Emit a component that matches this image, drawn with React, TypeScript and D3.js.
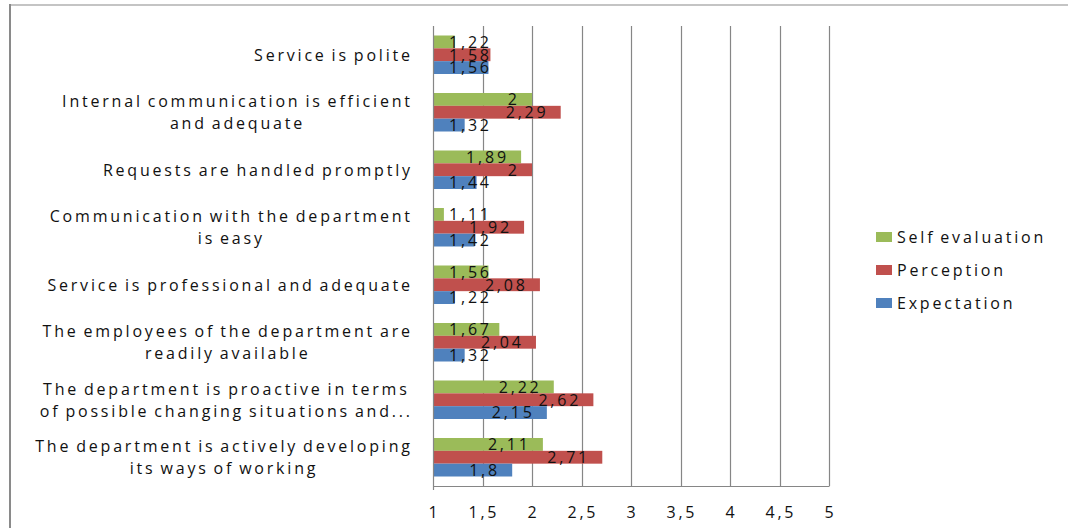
import React, { useEffect, useRef } from "react";
import * as d3 from "d3";

const categoryLines: string[][] = [
  ["Service is polite"],
  ["Internal communication is efficient", "and adequate"],
  ["Requests are handled promptly"],
  ["Communication with the department", "is easy"],
  ["Service is professional and adequate"],
  ["The employees of the department are", "readily available"],
  ["The department is proactive in terms", "of possible changing situations and..."],
  ["The department is actively developing", "its ways of working"],
];
const categories = categoryLines.map((l) => l.join(" "));

const seriesNames = ["Self evaluation", "Perception", "Expectation"];
const seriesColors = ["#9BBB59", "#C0504D", "#4F81BD"];
const selfEvaluation = [1.22, 2, 1.89, 1.11, 1.56, 1.67, 2.22, 2.11];
const perception = [1.58, 2.29, 2, 1.92, 2.08, 2.04, 2.62, 2.71];
const expectation = [1.56, 1.32, 1.44, 1.42, 1.22, 1.32, 2.15, 1.8];
const seriesValues = [selfEvaluation, perception, expectation];
const xTicks = [1, 1.5, 2, 2.5, 3, 3.5, 4, 4.5, 5];

const W = 1068;
const H = 528;
const FONT = "'Open Sans', sans-serif";
const FS = 16;
const LS = 2.8;
const WS = -2;

const fmt = (v: number) => String(v).replace(".", ",");

export default function App() {
  const ref = useRef<SVGSVGElement>(null);

  useEffect(() => {
    const svg = d3.select(ref.current);
    svg.selectAll("*").remove();

    const plotLeft = 433, plotRight = 829, plotTop = 26, plotBottom = 486;
    const x = d3.scaleLinear().domain([1, 5]).range([plotLeft, plotRight]);
    const y0 = d3.scaleBand<string>().domain(categories).range([plotTop, plotBottom]).padding(0);
    const y1 = d3
      .scaleBand<string>()
      .domain(seriesNames)
      .range([0, y0.bandwidth()])
      .paddingInner(0)
      .paddingOuter(0.74);

    // outer frame
    svg.append("line").attr("x1", 9).attr("x2", W).attr("y1", 5).attr("y2", 5)
      .attr("stroke", "#c4c4c4").attr("stroke-width", 2);
    svg.append("line").attr("x1", 10).attr("x2", 10).attr("y1", 4).attr("y2", H)
      .attr("stroke", "#8a8a8a").attr("stroke-width", 2);

    // gridlines
    const g = svg.append("g");
    g.selectAll("line.grid")
      .data(xTicks.filter((t) => t > 1))
      .join("line")
      .attr("x1", (d) => Math.round(x(d)) + 0.5)
      .attr("x2", (d) => Math.round(x(d)) + 0.5)
      .attr("y1", plotTop)
      .attr("y2", plotBottom)
      .attr("stroke", "#868686")
      .attr("stroke-width", 1.2);

    // bars
    seriesNames.forEach((s, si) => {
      const vals = seriesValues[si];
      g.selectAll(`rect.s${si}`)
        .data(vals)
        .join("rect")
        .attr("x", x(1))
        .attr("y", (_, i) => (y0(categories[i]) as number) + (y1(s) as number))
        .attr("width", (d) => x(d) - x(1))
        .attr("height", y1.bandwidth())
        .attr("fill", seriesColors[si]);
    });

    // axes lines
    svg.append("line").attr("x1", plotLeft + 0.5).attr("x2", plotLeft + 0.5)
      .attr("y1", plotTop).attr("y2", plotBottom + 4).attr("stroke", "#868686").attr("stroke-width", 1.2);
    svg.append("line").attr("x1", plotLeft).attr("x2", plotRight + 0.5)
      .attr("y1", plotBottom + 0.5).attr("y2", plotBottom + 0.5).attr("stroke", "#868686").attr("stroke-width", 1.2);

    const textStyle = (sel: any) =>
      sel
        .attr("font-family", FONT)
        .attr("font-size", FS)
        .attr("letter-spacing", LS)
        .attr("word-spacing", WS)
        .attr("fill", "#111");

    // value labels
    seriesNames.forEach((s, si) => {
      const vals = seriesValues[si];
      vals.forEach((v, i) => {
        const cy = (y0(categories[i]) as number) + (y1(s) as number) + y1.bandwidth() / 2;
        const t = svg.append("text").text(fmt(v)).attr("y", cy).attr("dy", "0.36em");
        textStyle(t);
        const w = (t.node() as SVGTextElement).getComputedTextLength();
        let left = x(v) - 15 - (w - LS);
        if (left < plotLeft + 16) left = plotLeft + 16;
        t.attr("x", left);
      });
    });

    // category labels
    categoryLines.forEach((lines, i) => {
      const cy = (y0(categories[i]) as number) + y0.bandwidth() / 2;
      const texts = lines.map((ln, li) => {
        const t = svg.append("text").text(ln)
          .attr("y", cy + (li - (lines.length - 1) / 2) * 22)
          .attr("dy", "0.36em");
        textStyle(t);
        return t;
      });
      const widths = texts.map((t) => (t.node() as SVGTextElement).getComputedTextLength() - LS);
      const maxW = Math.max(...widths);
      const center = 410 - maxW / 2;
      texts.forEach((t, k) => t.attr("x", center - widths[k] / 2));
    });

    // x tick labels
    xTicks.forEach((tv) => {
      const t = svg.append("text").text(fmt(tv)).attr("y", 512).attr("dy", "0.36em");
      textStyle(t);
      const w = (t.node() as SVGTextElement).getComputedTextLength() - LS;
      t.attr("x", x(tv) - w / 2);
    });

    // legend
    seriesNames.forEach((s, si) => {
      const cy = 237 + si * 33;
      svg.append("rect").attr("x", 876).attr("y", cy - 5).attr("width", 16).attr("height", 10)
        .attr("fill", seriesColors[si]);
      const t = svg.append("text").text(s).attr("x", 897).attr("y", cy).attr("dy", "0.36em");
      textStyle(t);
    });
  }, []);

  return (
    <svg
      ref={ref}
      width={W}
      height={H}
      style={{ position: "absolute", left: 0, top: 0, background: "#fff" }}
    />
  );
}
